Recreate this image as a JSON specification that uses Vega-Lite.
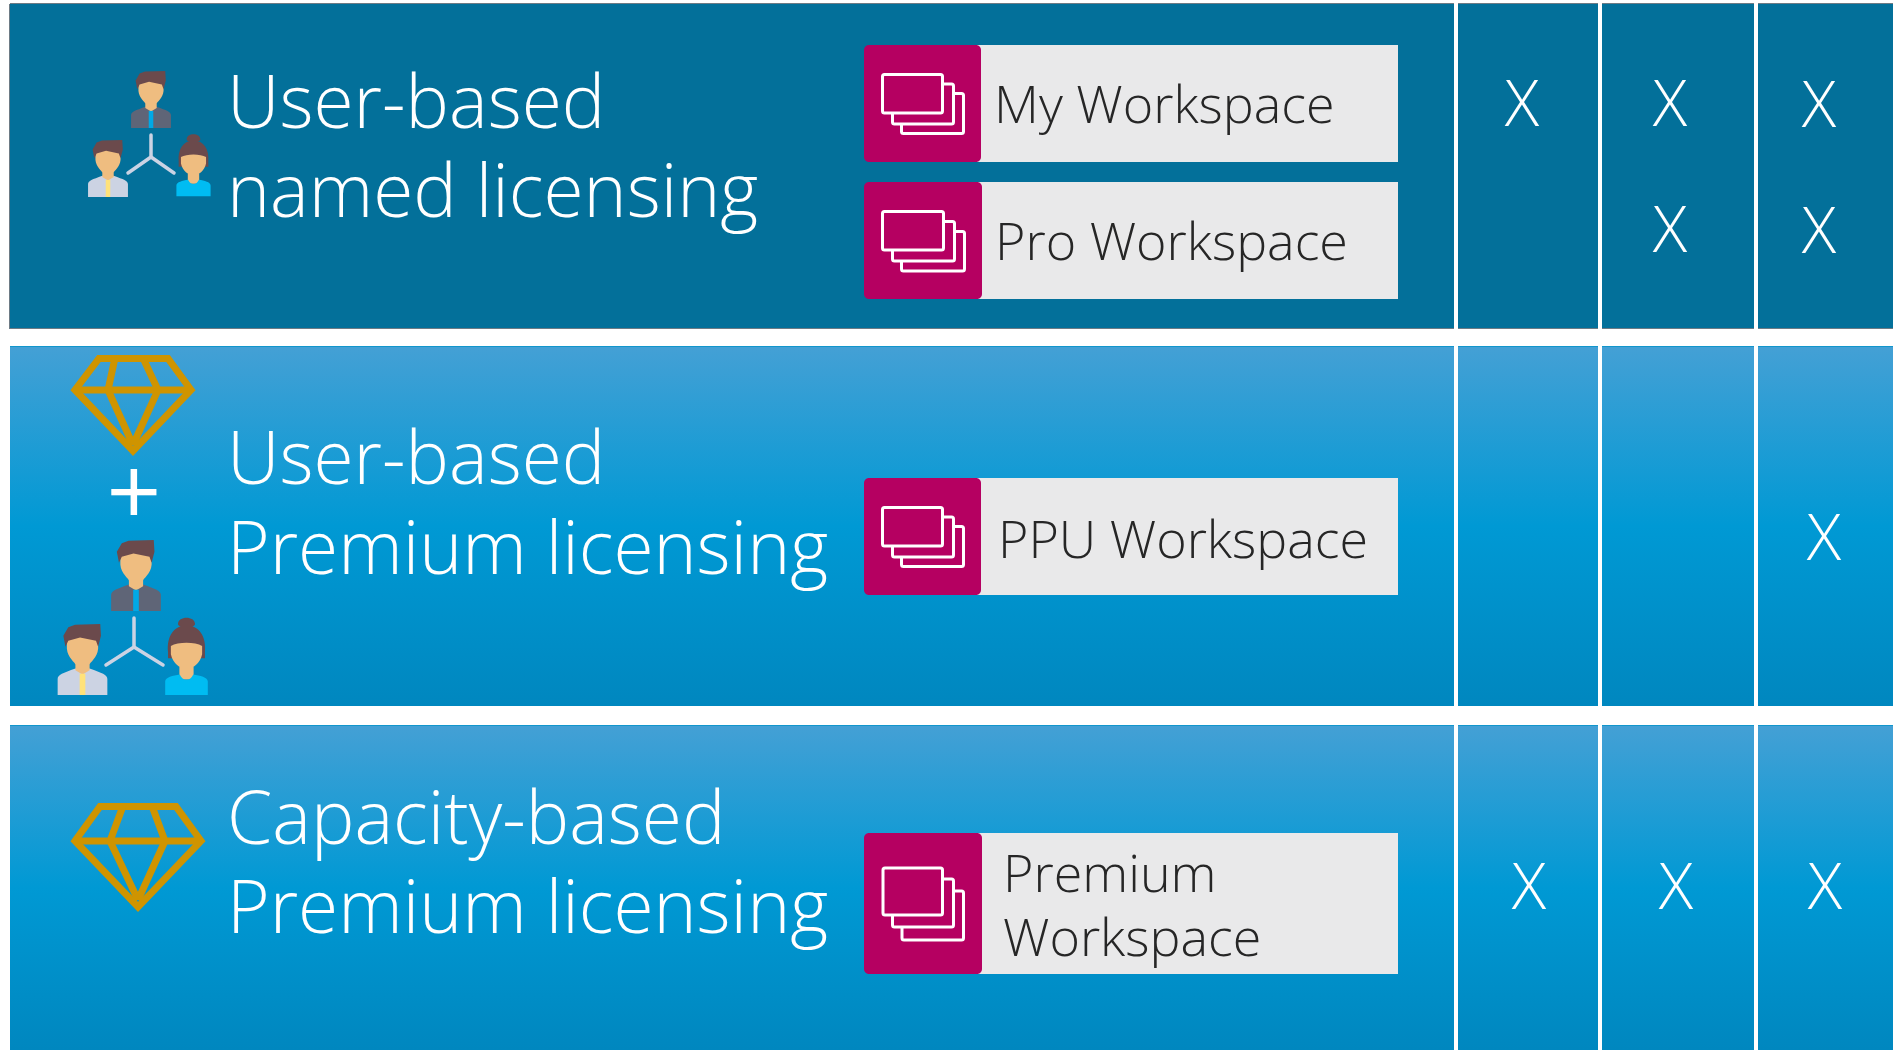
{
"$schema":"https://vega.github.io/schema/vega-lite/v6.json",
"width":1893,"height":1050,"padding":0,"autosize":{"type":"none"},"background":"white",
"config":{"view":{"stroke":null}},
"datasets":{
"dark":[{"x":10,"x2":1454,"y":4,"y2":329},{"x":1458,"x2":1598,"y":4,"y2":329},{"x":1602,"x2":1754,"y":4,"y2":329},{"x":1758,"x2":1893,"y":4,"y2":329}],
"light":[{"x":10,"x2":1454,"y":346,"y2":706},{"x":1458,"x2":1598,"y":346,"y2":706},{"x":1602,"x2":1754,"y":346,"y2":706},{"x":1758,"x2":1893,"y":346,"y2":706},
{"x":10,"x2":1454,"y":725,"y2":1050},{"x":1458,"x2":1598,"y":725,"y2":1050},{"x":1602,"x2":1754,"y":725,"y2":1050},{"x":1758,"x2":1893,"y":725,"y2":1050}],
"darkEdge":[{"x":10,"x2":1454,"y":3,"y2":4},{"x":1458,"x2":1598,"y":3,"y2":4},{"x":1602,"x2":1754,"y":3,"y2":4},{"x":1758,"x2":1893,"y":3,"y2":4},
{"x":10,"x2":1454,"y":328,"y2":329},{"x":1458,"x2":1598,"y":328,"y2":329},{"x":1602,"x2":1754,"y":328,"y2":329},{"x":1758,"x2":1893,"y":328,"y2":329},{"x":9,"x2":10,"y":4,"y2":329}],
"lightEdge":[{"x":10,"x2":1454,"y":346,"y2":347},{"x":1458,"x2":1598,"y":346,"y2":347},{"x":1602,"x2":1754,"y":346,"y2":347},{"x":1758,"x2":1893,"y":346,"y2":347},
{"x":10,"x2":1454,"y":725,"y2":726},{"x":1458,"x2":1598,"y":725,"y2":726},{"x":1602,"x2":1754,"y":725,"y2":726},{"x":1758,"x2":1893,"y":725,"y2":726}],
"grey":[{"x":975,"x2":1398,"y":45,"y2":162},{"x":975,"x2":1398,"y":182,"y2":299},{"x":975,"x2":1398,"y":478,"y2":595},{"x":975,"x2":1398,"y":833,"y2":974}],
"magenta":[{"x":864,"x2":981,"y":45,"y2":162},{"x":864,"x2":982,"y":182,"y2":299},{"x":864,"x2":981,"y":478,"y2":595},{"x":864,"x2":982,"y":833,"y2":974}],
"stack":[
{"x":901.5,"x2":963.5,"y":93.5,"y2":133.5},{"x":892.5,"x2":953.5,"y":84,"y2":124},{"x":882.5,"x2":942.5,"y":74.5,"y2":113},
{"x":901.5,"x2":964.5,"y":231.5,"y2":271},{"x":892.5,"x2":954.5,"y":221.5,"y2":261},{"x":882.5,"x2":943.5,"y":211.5,"y2":250},
{"x":901.5,"x2":963.5,"y":526.5,"y2":566.5},{"x":892.5,"x2":953.5,"y":517,"y2":557},{"x":882.5,"x2":942.5,"y":507.5,"y2":546},
{"x":902,"x2":963.5,"y":891,"y2":940},{"x":892.5,"x2":953.5,"y":879,"y2":927},{"x":883,"x2":942.5,"y":868,"y2":915}],
"titles":[{"label":"User-based","x":227,"y":128},{"label":"named licensing","x":227,"y":217},{"label":"User-based","x":227,"y":484},{"label":"Premium licensing","x":227,"y":574},{"label":"Capacity-based","x":227,"y":844},{"label":"Premium licensing","x":227,"y":933}],
"workspaces":[{"label":"My Workspace","x":994,"y":123},{"label":"Pro Workspace","x":995,"y":260},{"label":"PPU Workspace","x":998,"y":558},{"label":"Premium","x":1003,"y":892},{"label":"Workspace","x":1003,"y":956}],
"marks":[{"label":"X","x":1522,"y":126},{"label":"X","x":1670,"y":126},{"label":"X","x":1819,"y":127},{"label":"X","x":1670,"y":252},{"label":"X","x":1819,"y":253},{"label":"X","x":1824,"y":560},{"label":"X","x":1529,"y":909},{"label":"X","x":1676,"y":909},{"label":"X","x":1825,"y":909}],
"plus":[{"label":"+","x":134,"y":526}],
"diamonds":[
{"path":"a","o":1,"x":99,"y":358.5},{"path":"a","o":2,"x":168,"y":358.5},{"path":"a","o":3,"x":191,"y":390},{"path":"a","o":4,"x":133,"y":451},{"path":"a","o":5,"x":75,"y":390},{"path":"a","o":6,"x":99,"y":358.5},{"path":"a","o":7,"x":168,"y":358.5},
{"path":"a1","o":1,"x":75,"y":390},{"path":"a1","o":2,"x":191,"y":390},
{"path":"a2","o":1,"x":115,"y":358},{"path":"a2","o":2,"x":108,"y":390},{"path":"a2","o":3,"x":133,"y":445},
{"path":"a3","o":1,"x":143,"y":358},{"path":"a3","o":2,"x":158,"y":390},{"path":"a3","o":3,"x":133,"y":445},
{"path":"b","o":1,"x":100,"y":806.5},{"path":"b","o":2,"x":176,"y":806.5},{"path":"b","o":3,"x":201,"y":841},{"path":"b","o":4,"x":138,"y":907},{"path":"b","o":5,"x":75,"y":841},{"path":"b","o":6,"x":100,"y":806.5},{"path":"b","o":7,"x":176,"y":806.5},
{"path":"b1","o":1,"x":75,"y":841},{"path":"b1","o":2,"x":201,"y":841},
{"path":"b2","o":1,"x":123,"y":806},{"path":"b2","o":2,"x":110,"y":841},{"path":"b2","o":3,"x":138,"y":900},
{"path":"b3","o":1,"x":152,"y":806},{"path":"b3","o":2,"x":165,"y":841},{"path":"b3","o":3,"x":138,"y":900}],
"links":[
{"path":"s1","o":1,"x":151,"y":135},{"path":"s1","o":2,"x":151,"y":157},{"path":"s1","o":3,"x":128,"y":173},
{"path":"s2","o":1,"x":151,"y":157},{"path":"s2","o":2,"x":174,"y":173},
{"path":"l1","o":1,"x":134,"y":618},{"path":"l1","o":2,"x":134,"y":647},{"path":"l1","o":3,"x":106,"y":665},
{"path":"l2","o":1,"x":134,"y":647},{"path":"l2","o":2,"x":163,"y":665}],
"people":[
{"who":"lead","set":"small","x":151,"y":99.5},{"who":"staff","set":"small","x":108,"y":168.5},{"who":"woman","set":"small","x":193.5,"y":165},
{"who":"lead","set":"large","x":136,"y":575.5},{"who":"staff","set":"large","x":82.5,"y":659.5},{"who":"woman","set":"large","x":186.5,"y":656}]
},
"encoding":{
"x":{"field":"x","type":"quantitative","axis":null,"scale":{"domain":[0,1893],"range":[0,1893],"nice":false,"zero":false}},
"y":{"field":"y","type":"quantitative","axis":null,"scale":{"domain":[1050,0],"range":[1050,0],"nice":false,"zero":false}}
},
"layer":[
{"data":{"name":"dark"},"mark":{"type":"rect","color":"#03709a"},"encoding":{"x2":{"field":"x2"},"y2":{"field":"y2"}}},
{"data":{"name":"light"},"mark":{"type":"rect","color":{"gradient":"linear","x1":0,"y1":0,"x2":0,"y2":1,"stops":[{"offset":0,"color":"#44a0d5"},{"offset":0.5,"color":"#0099d4"},{"offset":1,"color":"#0087bf"}]}},"encoding":{"x2":{"field":"x2"},"y2":{"field":"y2"}}},
{"data":{"name":"darkEdge"},"mark":{"type":"rect","color":"#6d7b85"},"encoding":{"x2":{"field":"x2"},"y2":{"field":"y2"}}},
{"data":{"name":"lightEdge"},"mark":{"type":"rect","color":"#1196cc"},"encoding":{"x2":{"field":"x2"},"y2":{"field":"y2"}}},
{"data":{"name":"grey"},"mark":{"type":"rect","color":"#e9e9ea"},"encoding":{"x2":{"field":"x2"},"y2":{"field":"y2"}}},
{"data":{"name":"magenta"},"mark":{"type":"rect","color":"#b50061","cornerRadius":5},"encoding":{"x2":{"field":"x2"},"y2":{"field":"y2"}}},
{"data":{"name":"stack"},"mark":{"type":"rect","fill":"#b50061","stroke":"white","strokeWidth":3,"cornerRadius":2},"encoding":{"x2":{"field":"x2"},"y2":{"field":"y2"}}},
{"data":{"name":"titles"},"mark":{"type":"text","font":"Open Sans","fontWeight":300,"fontSize":73,"color":"white","align":"left","baseline":"alphabetic"},"encoding":{"text":{"field":"label"}}},
{"data":{"name":"workspaces"},"mark":{"type":"text","font":"Open Sans","fontWeight":300,"fontSize":52,"color":"#262626","align":"left","baseline":"alphabetic"},"encoding":{"text":{"field":"label"}}},
{"data":{"name":"marks"},"mark":{"type":"text","font":"Open Sans","fontWeight":300,"fontSize":64,"color":"white","align":"center","baseline":"alphabetic"},"encoding":{"text":{"field":"label"}}},
{"data":{"name":"plus"},"mark":{"type":"text","font":"Open Sans","fontWeight":400,"fontSize":96,"color":"white","align":"center","baseline":"alphabetic"},"encoding":{"text":{"field":"label"}}},
{"data":{"name":"diamonds"},"mark":{"type":"line","color":"#cf9400","strokeWidth":7,"strokeJoin":"miter"},"encoding":{"detail":{"field":"path"},"order":{"field":"o"}}},
{"data":{"name":"links"},"mark":{"type":"line","color":"#cbd3e4","strokeWidth":3.5,"strokeCap":"round"},"encoding":{"detail":{"field":"path"},"order":{"field":"o"}}},
{"data":{"name":"people"},"transform":[{"filter":"datum.who==='lead'"}],"mark":{"type":"point","filled":true,"opacity":1,"strokeWidth":0,"color":"#5f6577","shape":"M-.7,1 L-.7,.55 C-.7,.42 -.55,.38 -.2,.25 L.2,.25 C.55,.38 .7,.42 .7,.55 L.7,1 Z"},"encoding":{"size":{"field":"set","type":"ordinal","legend":null,"scale":{"domain":["small","large"],"range":[3249,5041]}}}},
{"data":{"name":"people"},"transform":[{"filter":"datum.who==='staff'"}],"mark":{"type":"point","filled":true,"opacity":1,"strokeWidth":0,"color":"#ccd3e3","shape":"M-.7,1 L-.7,.55 C-.7,.42 -.55,.38 -.2,.25 L.2,.25 C.55,.38 .7,.42 .7,.55 L.7,1 Z"},"encoding":{"size":{"field":"set","type":"ordinal","legend":null}}},
{"data":{"name":"people"},"transform":[{"filter":"datum.who!=='woman'"}],"mark":{"type":"point","filled":true,"opacity":1,"strokeWidth":0,"color":"#efbd80","shape":"M-.44,-.62 C-.1,-.68 .2,-.68 .44,-.6 L.44,-.3 C.42,-.05 .2,.1 .2,.14 L.2,.3 L0,.42 L-.2,.3 L-.2,.14 C-.2,.1 -.42,-.05 -.44,-.3 Z"},"encoding":{"size":{"field":"set","type":"ordinal","legend":null}}},
{"data":{"name":"people"},"transform":[{"filter":"datum.who!=='woman'"}],"mark":{"type":"point","filled":true,"opacity":1,"strokeWidth":0,"color":"#6b4a4c","shape":"M-.54,-.67 L-.4,-.91 L-.21,-.98 L.5,-1 L.52,-.67 L.44,-.36 L.38,-.53 L-.07,-.62 L-.4,-.53 L-.48,-.36 Z"},"encoding":{"size":{"field":"set","type":"ordinal","legend":null}}},
{"data":{"name":"people"},"transform":[{"filter":"datum.who==='lead'"}],"mark":{"type":"point","filled":true,"opacity":1,"strokeWidth":0,"color":"#00a9e6","shape":"M-.08,.4 L.08,.4 L.08,1 L-.08,1 Z"},"encoding":{"size":{"field":"set","type":"ordinal","legend":null}}},
{"data":{"name":"people"},"transform":[{"filter":"datum.who==='staff'"}],"mark":{"type":"point","filled":true,"opacity":1,"strokeWidth":0,"color":"#ffe27a","shape":"M-.08,.4 L.08,.4 L.08,1 L-.08,1 Z"},"encoding":{"size":{"field":"set","type":"ordinal","legend":null}}},
{"data":{"name":"people"},"transform":[{"filter":"datum.who==='woman'"}],"mark":{"type":"point","filled":true,"opacity":1,"strokeWidth":0,"color":"#6b4a4c","shape":"M-.52,-.11 C-.56,-.55 -.36,-.86 0,-.86 C.36,-.86 .56,-.55 .52,-.11 L.52,.06 L-.52,.06 Z M-.24,-.9 C-.24,-1.14 .24,-1.14 .24,-.9 C.24,-.77 -.24,-.77 -.24,-.9 Z"},"encoding":{"size":{"field":"set","type":"ordinal","legend":null}}},
{"data":{"name":"people"},"transform":[{"filter":"datum.who==='woman'"}],"mark":{"type":"point","filled":true,"opacity":1,"strokeWidth":0,"color":"#efbd80","shape":"M-.44,-.28 C-.24,-.4 .24,-.4 .44,-.28 L.44,-.05 C.38,.22 .18,.36 0,.36 C-.18,.36 -.38,.22 -.44,-.05 Z M-.2,.2 L.2,.2 L.2,.66 L-.2,.66 Z"},"encoding":{"size":{"field":"set","type":"ordinal","legend":null}}},
{"data":{"name":"people"},"transform":[{"filter":"datum.who==='woman'"}],"mark":{"type":"point","filled":true,"opacity":1,"strokeWidth":0,"color":"#00bcf2","shape":"M-.6,1.1 L-.6,.72 C-.6,.6 -.38,.55 -.19,.52 C-.11,.72 .11,.72 .19,.52 C.38,.55 .6,.6 .6,.72 L.6,1.1 Z"},"encoding":{"size":{"field":"set","type":"ordinal","legend":null}}}
]
}
